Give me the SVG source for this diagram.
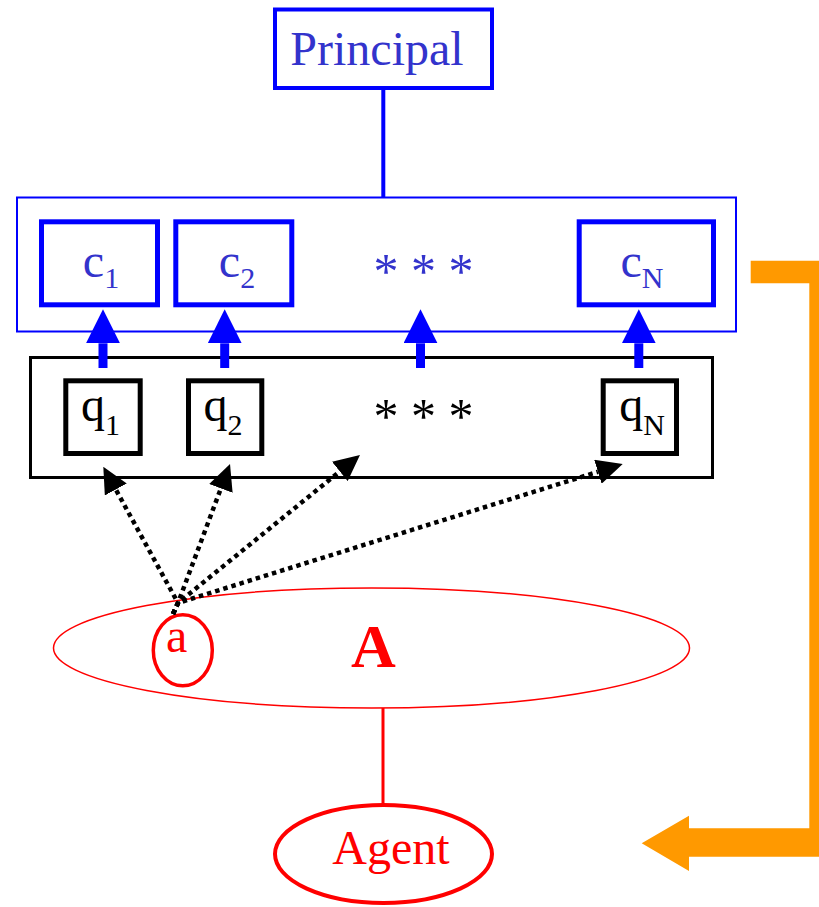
<svg xmlns="http://www.w3.org/2000/svg" width="819" height="907" viewBox="0 0 819 907">
<defs>
<style>
.t{font-family:"Liberation Serif","Times New Roman",serif;}
.bt{fill:#3333CC;}
.box{fill:none;stroke:#0000FF;stroke-width:5;}
.qbox{fill:none;stroke:#000000;stroke-width:5;}
.dot{fill:none;stroke:#000000;stroke-width:4.5;stroke-dasharray:4.5 4;marker-end:url(#dh);}
.blu{fill:none;stroke:#0000FF;stroke-width:9;marker-end:url(#bh);}
</style>
<marker id="dh" viewBox="0 -12.5 26 25" refX="0" refY="0" markerWidth="26" markerHeight="25" markerUnits="userSpaceOnUse" orient="auto">
<path d="M0,-12.5 L26,0 L0,12.5 Z" fill="#000000"/>
</marker>
<marker id="bh" viewBox="0 -17 34 34" refX="0" refY="0" markerWidth="34" markerHeight="34" markerUnits="userSpaceOnUse" orient="auto">
<path d="M0,-17 L34,0 L0,17 Z" fill="#0000FF"/>
</marker>
</defs>
<rect width="819" height="907" fill="#FFFFFF"/>

<g id="principal">
<rect x="275" y="9.5" width="217" height="78.5" fill="none" stroke="#0000FF" stroke-width="4"/>
<text class="t bt" x="377" y="65" font-size="48" text-anchor="middle">Principal</text>
</g>

<g id="contracts">
<rect x="17" y="197.5" width="719" height="134" fill="none" stroke="#0000FF" stroke-width="2"/>
</g>
<g id="c1">
<rect class="box" x="41.5" y="221.8" width="116" height="83"/>
<text class="t bt" x="101" y="277" font-size="48" text-anchor="middle">c<tspan font-size="30" dy="11">1</tspan></text>
</g>
<g id="c2">
<rect class="box" x="175.8" y="221.8" width="116" height="83"/>
<text class="t bt" x="237" y="277" font-size="48" text-anchor="middle">c<tspan font-size="30" dy="11">2</tspan></text>
</g>
<g id="cdots">
<text class="t bt" x="423.5" y="287.5" font-size="50" text-anchor="middle">* * *</text>
</g>
<g id="cN">
<rect class="box" x="579.2" y="221.8" width="134.3" height="83"/>
<text class="t bt" x="642" y="277" font-size="48" text-anchor="middle">c<tspan font-size="30" dy="11">N</tspan></text>
</g>

<g id="signals">
<rect x="30.5" y="357.5" width="682" height="120" fill="none" stroke="#000000" stroke-width="3"/>
</g>
<g id="q1">
<rect class="qbox" x="65.8" y="380.8" width="74.4" height="72.7"/>
<text class="t" x="100.5" y="421" font-size="48" text-anchor="middle" fill="#000000">q<tspan font-size="30" dy="14">1</tspan></text>
</g>
<g id="q2">
<rect class="qbox" x="188.5" y="380.8" width="73.3" height="72.7"/>
<text class="t" x="223" y="421" font-size="48" text-anchor="middle" fill="#000000">q<tspan font-size="30" dy="14">2</tspan></text>
</g>
<g id="qdots">
<text class="t" x="423.5" y="432.5" font-size="50" text-anchor="middle" fill="#000000">* * *</text>
</g>
<g id="qN">
<rect class="qbox" x="603.2" y="380.8" width="73.3" height="72.7"/>
<text class="t" x="642" y="421" font-size="48" text-anchor="middle" fill="#000000">q<tspan font-size="30" dy="14">N</tspan></text>
</g>

<g id="actions">
<ellipse cx="371.5" cy="648" rx="318" ry="60" fill="none" stroke="#FF0000" stroke-width="1.5"/>
<text class="t" x="373.5" y="667" font-size="62" font-weight="bold" text-anchor="middle" fill="#FF0000">A</text>
</g>
<g id="a">
<ellipse cx="182.8" cy="650.3" rx="29.5" ry="35.5" fill="none" stroke="#FF0000" stroke-width="3.5"/>
<text class="t" x="176.7" y="652" font-size="48" text-anchor="middle" fill="#FF0000">a</text>
</g>
<g id="agent">
<ellipse cx="383.5" cy="854" rx="108.5" ry="49" fill="none" stroke="#FF0000" stroke-width="4"/>
<text class="t" x="391" y="864" font-size="48" text-anchor="middle" fill="#FF0000">Agent</text>
</g>

<g id="connectors">
<line x1="383.3" y1="88" x2="383.3" y2="197" stroke="#0000FF" stroke-width="4"/>
<line x1="383" y1="708" x2="383" y2="805" stroke="#FF0000" stroke-width="3"/>
<path class="blu" d="M103,368 L103,343.3"/>
<path class="blu" d="M224.7,368 L224.7,343.3"/>
<path class="blu" d="M420.5,368 L420.5,343.3"/>
<path class="blu" d="M638.8,368 L638.8,343.3"/>
<path class="dot" d="M173,614 L178,603 L115.8,489.5"/>
<path class="dot" d="M173,614 L178,603 L220.9,488.4"/>
<path class="dot" d="M173,614 L178,603 L339.8,471.4"/>
<path class="dot" d="M173,614 L178,603 L597.9,471.8"/>
<polygon points="750.7,260.7 830,260.7 830,856.7 689,856.7 689,871 641.7,843.3 689,815.7 689,828.3 809.3,828.3 809.3,283.3 750.7,283.3" fill="#FF9900"/>
</g>
</svg>
